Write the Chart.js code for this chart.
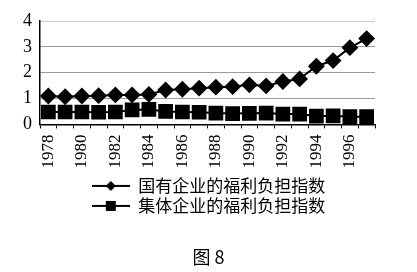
<!DOCTYPE html>
<html>
<head>
<meta charset="utf-8">
<script src="https://cdn.jsdelivr.net/npm/chart.js@4/dist/chart.umd.min.js"></script>
<style>
  html, body { margin: 0; padding: 0; background: #fff; }
  #wrap { width: 417px; height: 272px; }
</style>
</head>
<body>
<div id="wrap"><canvas id="myChart" width="417" height="272"></canvas></div>
<script>
const years = ['1978', '1979', '1980', '1981', '1982', '1983', '1984', '1985', '1986', '1987',
    '1988', '1989', '1990', '1991', '1992', '1993', '1994', '1995', '1996', '1997'];
const stateIndex = [1.10, 1.07, 1.10, 1.11, 1.14, 1.14, 1.16, 1.33, 1.36, 1.40,
    1.44, 1.46, 1.53, 1.49, 1.66, 1.76, 2.25, 2.47, 2.97, 3.32];
const collectiveIndex = [0.48, 0.48, 0.48, 0.47, 0.48, 0.56, 0.58, 0.50, 0.48, 0.47,
    0.44, 0.42, 0.43, 0.44, 0.40, 0.40, 0.32, 0.33, 0.30, 0.30];
const seriesNames = ['国有企业的福利负担指数', '集体企业的福利负担指数'];
const yTicks = [0, 1, 2, 3, 4];
const caption = '图 8';

const serif = "'Liberation Serif', 'DejaVu Serif', serif";
const cjk = "'Noto Sans CJK SC', 'Liberation Serif', sans-serif";

function legendGlyph(kind) {
    const c = document.createElement('canvas');
    c.width = 38;
    c.height = 14;
    const g = c.getContext('2d');
    g.strokeStyle = '#000';
    g.lineWidth = 2;
    g.beginPath();
    g.moveTo(0, 7);
    g.lineTo(38, 7);
    g.stroke();
    g.fillStyle = '#000';
    if (kind === 'diamond') {
        g.beginPath();
        g.moveTo(19, 2);
        g.lineTo(24, 7);
        g.lineTo(19, 12);
        g.lineTo(14, 7);
        g.closePath();
        g.fill();
    } else {
        g.fillRect(14, 2, 10, 10);
    }
    return c;
}

const chartCanvas = document.getElementById('myChart').getContext('2d');

const myChart = new Chart(chartCanvas, {
    type: 'line',
    data: {
        labels: years,
        datasets: [{
            label: seriesNames[0],
            data: stateIndex,
            borderColor: '#000',
            backgroundColor: '#000',
            borderWidth: 2,
            pointStyle: 'rectRot',
            pointRadius: 7,
            pointHoverRadius: 7,
            legendStyle: legendGlyph('diamond')
        }, {
            label: seriesNames[1],
            data: collectiveIndex,
            borderColor: '#000',
            backgroundColor: '#000',
            borderWidth: 2,
            pointStyle: 'rect',
            pointRadius: 9,
            pointHoverRadius: 9,
            legendStyle: legendGlyph('square')
        }]
    },
    options: {
        responsive: false,
        animation: false,
        layout: {
            padding: { left: 0, right: 0, top: 21, bottom: 2 }
        },
        scales: {
            x: {
                offset: true,
                grid: {
                    offset: true,
                    drawOnChartArea: false,
                    drawTicks: true,
                    tickLength: 4,
                    color: '#000'
                },
                border: { color: '#000', width: 1.5 },
                ticks: {
                    autoSkip: false,
                    minRotation: 90,
                    maxRotation: 90,
                    padding: 6,
                    color: '#000',
                    font: { family: serif, size: 17 },
                    callback: function (value, index) {
                        return index % 2 === 0 ? years[index] : '';
                    }
                }
            },
            y: {
                min: 0,
                max: 4,
                afterFit: function (scale) { scale.width = 40; },
                afterBuildTicks: function (scale) {
                    scale.ticks = yTicks.map(v => ({ value: v }));
                },
                grid: {
                    drawTicks: false,
                    color: function (ctx) {
                        return ctx.tick && ctx.tick.value === 4 ? 'rgba(0,0,0,0.2)' : '#9a9a9a';
                    },
                    lineWidth: 1
                },
                border: { color: '#000', width: 1.5 },
                ticks: {
                    autoSkip: false,
                    padding: 8,
                    color: '#000',
                    font: { family: serif, size: 18 }
                }
            },
            yRight: {
                position: 'right',
                min: 0,
                max: 4,
                afterFit: function (scale) { scale.width = 42; },
                grid: { display: false },
                border: { display: false },
                ticks: { display: false }
            }
        },
        plugins: {
            legend: {
                position: 'bottom',
                labels: {
                    usePointStyle: true,
                    pointStyleWidth: 38,
                    padding: 3,
                    color: '#000',
                    font: { family: cjk, size: 17 },
                    generateLabels: function (chart) {
                        return chart.data.datasets.map((ds, i) => ({
                            text: ds.label,
                            pointStyle: ds.legendStyle,
                            fillStyle: '#000',
                            strokeStyle: '#000',
                            lineWidth: 0,
                            fontColor: '#000',
                            datasetIndex: i
                        }));
                    }
                }
            },
            title: {
                display: true,
                position: 'bottom',
                text: caption,
                color: '#000',
                font: { family: cjk, size: 18, weight: 'normal' },
                padding: { top: 22, bottom: 2 }
            },
            tooltip: { enabled: false }
        }
    }
});
</script>
</body>
</html>
